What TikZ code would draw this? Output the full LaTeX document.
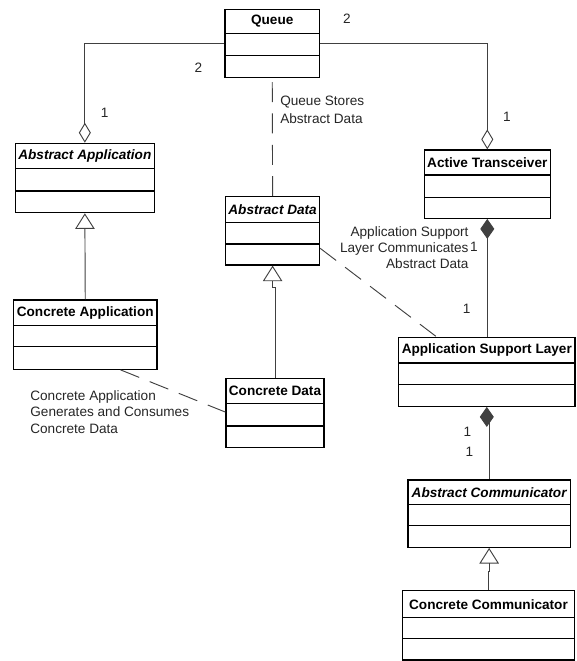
\documentclass[tikz,border=0pt]{standalone}
\usepackage{fontspec}
\setmainfont{Liberation Sans}
\usetikzlibrary{arrows.meta,fit,calc}
\tikzset{
  boxline/.style={draw=black, line width=0.9pt},
  divline/.style={draw=black, line width=0.9pt},
  title/.style={font=\fontsize{10.2pt}{12pt}\selectfont\bfseries, inner sep=0pt},
  lbl/.style={font=\fontsize{10.2pt}{12.5pt}\selectfont, inner sep=0pt, text=black!85},
  conn/.style={draw=black!75, line width=0.7pt},
  dashconn/.style={conn, dash pattern=on 15pt off 8.5pt},
  agg/.style={conn, -{Diamond[open, length=15pt, width=9pt]}},
  comp/.style={conn, {Diamond[length=15pt, width=10.5pt]}-},
  gen/.style={conn, -{Triangle[open, length=11.7pt, width=14.6pt]}},
}
\newcommand{\umlclass}[8]{%
  \coordinate (#1-nw) at (#2,#3);
  \coordinate (#1-se) at (#4,#5);
  \node[boxline, fit=(#1-nw)(#1-se), inner sep=0pt] (#1) {};
  \draw[divline] (#2,#6) -- (#4,#6);
  \draw[divline] (#2,#7) -- (#4,#7);
  \begin{scope}
    \clip (#2,#3) rectangle (#4,#6);
    \node[title] (#1-t) at ({(#2+#4)/2},{(#3+#6)/2}) {#8};
  \end{scope}
}
\begin{document}
\begin{tikzpicture}[x=0.75pt, y=-0.75pt]
\useasboundingbox (0,0) rectangle (576,661);

% classes
\umlclass{q}{225}{9.3}{319.5}{77.3}{33.7}{55.7}{Queue}
\umlclass{aa}{15.4}{143.3}{154.3}{212.7}{168.7}{191}{\itshape Abstract Application}
\umlclass{at}{424.3}{150}{550.3}{218.3}{175}{197.3}{Active Transceiver}
\umlclass{ad}{225.6}{196.7}{319.6}{265}{222.3}{244}{\itshape Abstract Data}
\umlclass{ca}{13.6}{300}{156.9}{369.3}{325.7}{346.7}{Concrete Application}
\umlclass{cd}{226}{378.3}{324}{447.7}{403.7}{426}{Concrete Data}
\umlclass{asl}{398.6}{337.5}{575}{406.3}{363}{384.7}{Application Support Layer}
\umlclass{ac}{408}{480}{570.3}{547.3}{504.3}{525.7}{\itshape Abstract Communicator}
\umlclass{cc}{402.7}{590.7}{574.3}{660}{617.7}{638.3}{Concrete Communicator}

% aggregations from Queue
\draw[agg] (q.west) -| (aa.north);
\draw[agg] (q.east) -| (at.north);

% compositions
\draw[comp] (at.south) -- (at.south |- asl.north);
\draw[comp] (asl.south) -- ++(0,6) -| (ac.north);

% generalizations
\draw[gen] (ca.north) -- (aa.south);
\draw[gen] (cd.north) |- ([yshift=-16.5pt]ad.south) -- (ad.south);
\draw[gen] (cc.north) |- ([yshift=-18pt]ac.south) -- (ac.south);

% dashed associations
\draw[dashconn] (ad.north) -- (q.south);
\draw[dashconn] ([yshift=-13.1pt]ad.east) -- ([xshift=29pt]asl.north west);
\draw[dashconn] ([xshift=80.7pt]ca.south west) -- ([yshift=-25.8pt]cd.north west);

% labels
\node[lbl] (m1) at (347,18.3) {2};
\node[lbl] (m2) at (198.4,67.7) {2};
\node[lbl] (m3) at (104.7,112.7) {1};
\node[lbl] (m4) at (507,117.3) {1};
\node[lbl, align=left, anchor=west, font=\fontsize{10.2pt}{13pt}\selectfont] (l1) at (280,109.7) {Queue Stores\\Abstract Data};
\node[lbl, align=right, anchor=east, font=\fontsize{10.2pt}{12.2pt}\selectfont] (l2) at (468.8,247.8) {Application Support\\Layer Communicates\\Abstract Data};
\node[lbl] (m5) at (474,246.7) {1};
\node[lbl] (m6) at (466.6,309.3) {1};
\node[lbl] (m7) at (467.3,432.3) {1};
\node[lbl] (m8) at (469.3,452.3) {1};
\node[lbl, align=left, anchor=west] (l3) at (30.1,411.8) {Concrete Application\\Generates and Consumes\\Concrete Data};
\end{tikzpicture}
\end{document}
